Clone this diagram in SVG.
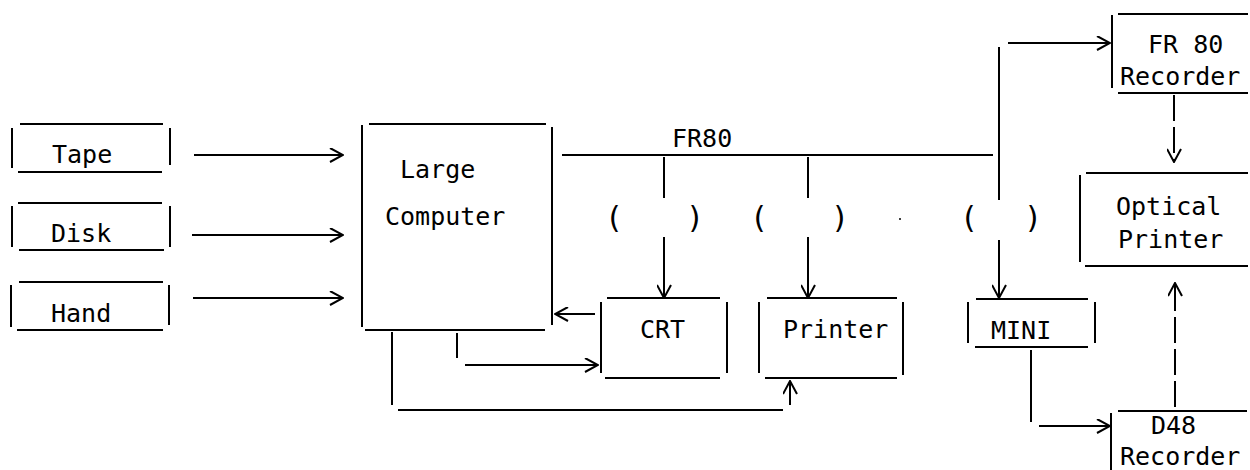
<svg xmlns="http://www.w3.org/2000/svg" width="1250" height="470" viewBox="0 0 1250 470">
<style>
line, path.c { stroke:#000; stroke-width:2; fill:none; }
.d { stroke-dasharray:26 6; }
text { font-family:"DejaVu Sans Mono","Liberation Mono",monospace; font-size:25px; fill:#000; }
.p { text-anchor:middle; font-size:30px; }
</style>
<defs>
<marker id="ah" viewBox="0 0 15 15" markerWidth="15" markerHeight="15" refX="14" refY="7.5" orient="auto" markerUnits="userSpaceOnUse">
<path d="M1,0.5 L14,7.5 L1,14.5" fill="none" stroke="#000" stroke-width="2"/>
</marker>
</defs>
<rect width="1250" height="470" fill="#fff"/>

<g id="tape">
<line x1="20" y1="124" x2="163" y2="124"/><line x1="18" y1="172" x2="162" y2="172"/>
<line x1="12" y1="128" x2="12" y2="168"/><line x1="170" y1="128" x2="170" y2="165"/>
<text x="52" y="163">Tape</text>
</g>
<g id="disk">
<line x1="18" y1="203" x2="162" y2="203"/><line x1="19" y1="250" x2="164" y2="250"/>
<line x1="12" y1="206" x2="12" y2="247"/><line x1="170" y1="206" x2="170" y2="247"/>
<text x="51" y="242">Disk</text>
</g>
<g id="hand">
<line x1="19" y1="282" x2="163" y2="282"/><line x1="17" y1="330" x2="163" y2="330"/>
<line x1="11" y1="285" x2="11" y2="327"/><line x1="169" y1="285" x2="169" y2="325"/>
<text x="51" y="322">Hand</text>
</g>
<g id="large-computer">
<line x1="369" y1="124" x2="546" y2="124"/><line x1="365" y1="330" x2="545" y2="330"/>
<line x1="362" y1="125" x2="362" y2="327"/><line x1="552" y1="127" x2="552" y2="325"/>
<text x="400" y="178">Large</text>
<text x="385" y="225">Computer</text>
</g>
<g id="crt">
<line x1="607" y1="298" x2="720" y2="298"/><line x1="605" y1="378" x2="720" y2="378"/>
<line x1="601" y1="302" x2="601" y2="373"/><line x1="727" y1="302" x2="727" y2="373"/>
<text x="640" y="338">CRT</text>
</g>
<g id="printer">
<line x1="767" y1="298" x2="897" y2="298"/><line x1="765" y1="378" x2="897" y2="378"/>
<line x1="759" y1="302" x2="759" y2="373"/><line x1="903" y1="302" x2="903" y2="375"/>
<text x="783" y="338">Printer</text>
</g>
<g id="mini">
<line x1="976" y1="299" x2="1088" y2="299"/><line x1="975" y1="347" x2="1088" y2="347"/>
<line x1="968" y1="302" x2="968" y2="343"/><line x1="1095" y1="302" x2="1095" y2="343"/>
<text x="991" y="339">MINI</text>
</g>
<g id="fr80-recorder">
<line x1="1118" y1="14" x2="1248" y2="14"/><line x1="1118" y1="93" x2="1248" y2="93"/>
<line x1="1112" y1="15" x2="1112" y2="88"/>
<text x="1148" y="53">FR 80</text>
<text x="1120" y="85">Recorder</text>
</g>
<g id="optical-printer">
<line x1="1086" y1="173" x2="1248" y2="173"/><line x1="1085" y1="266" x2="1248" y2="266"/>
<line x1="1080" y1="175" x2="1080" y2="262"/>
<text x="1116" y="215">Optical</text>
<text x="1118" y="248">Printer</text>
</g>
<g id="d48-recorder">
<line x1="1118" y1="411" x2="1247" y2="411"/>
<line x1="1111" y1="413" x2="1111" y2="470"/>
<text x="1151" y="434">D48</text>
<text x="1120" y="465">Recorder</text>
</g>

<g id="connectors">
<line x1="194" y1="155" x2="343" y2="155" marker-end="url(#ah)"/>
<line x1="192" y1="235" x2="343" y2="235" marker-end="url(#ah)"/>
<line x1="193" y1="298" x2="343" y2="298" marker-end="url(#ah)"/>
<line x1="562" y1="155" x2="993" y2="155"/>
<text x="672" y="147">FR80</text>
<line x1="664" y1="157" x2="664" y2="198"/>
<line x1="664" y1="237" x2="664" y2="298" marker-end="url(#ah)"/>
<text class="p" x="614" y="228">(</text><text class="p" x="695" y="228">)</text>
<line x1="808" y1="157" x2="808" y2="198"/>
<line x1="808" y1="237" x2="808" y2="298" marker-end="url(#ah)"/>
<text class="p" x="759" y="228">(</text><text class="p" x="840" y="228">)</text>
<line x1="999" y1="47" x2="999" y2="200"/>
<line x1="999" y1="240" x2="999" y2="298" marker-end="url(#ah)"/>
<line x1="1008" y1="43" x2="1110" y2="43" marker-end="url(#ah)"/>
<text class="p" x="969" y="228">(</text><text class="p" x="1033" y="228">)</text>
<circle cx="900" cy="219" r="1" fill="#000"/>
<line x1="595" y1="314" x2="555" y2="314" marker-end="url(#ah)"/>
<line x1="457" y1="333" x2="457" y2="358"/>
<line x1="465" y1="365" x2="598" y2="365" marker-end="url(#ah)"/>
<line x1="392" y1="332" x2="392" y2="405"/>
<line x1="398" y1="410" x2="783" y2="410"/>
<line x1="790" y1="405" x2="790" y2="381" marker-end="url(#ah)"/>
<line x1="1031" y1="350" x2="1031" y2="422"/>
<line x1="1039" y1="426" x2="1110" y2="426" marker-end="url(#ah)"/>
<line class="d" x1="1174" y1="95" x2="1174" y2="162" marker-end="url(#ah)"/>
<line class="d" x1="1175" y1="407" x2="1175" y2="283" marker-end="url(#ah)"/>
</g>
</svg>
